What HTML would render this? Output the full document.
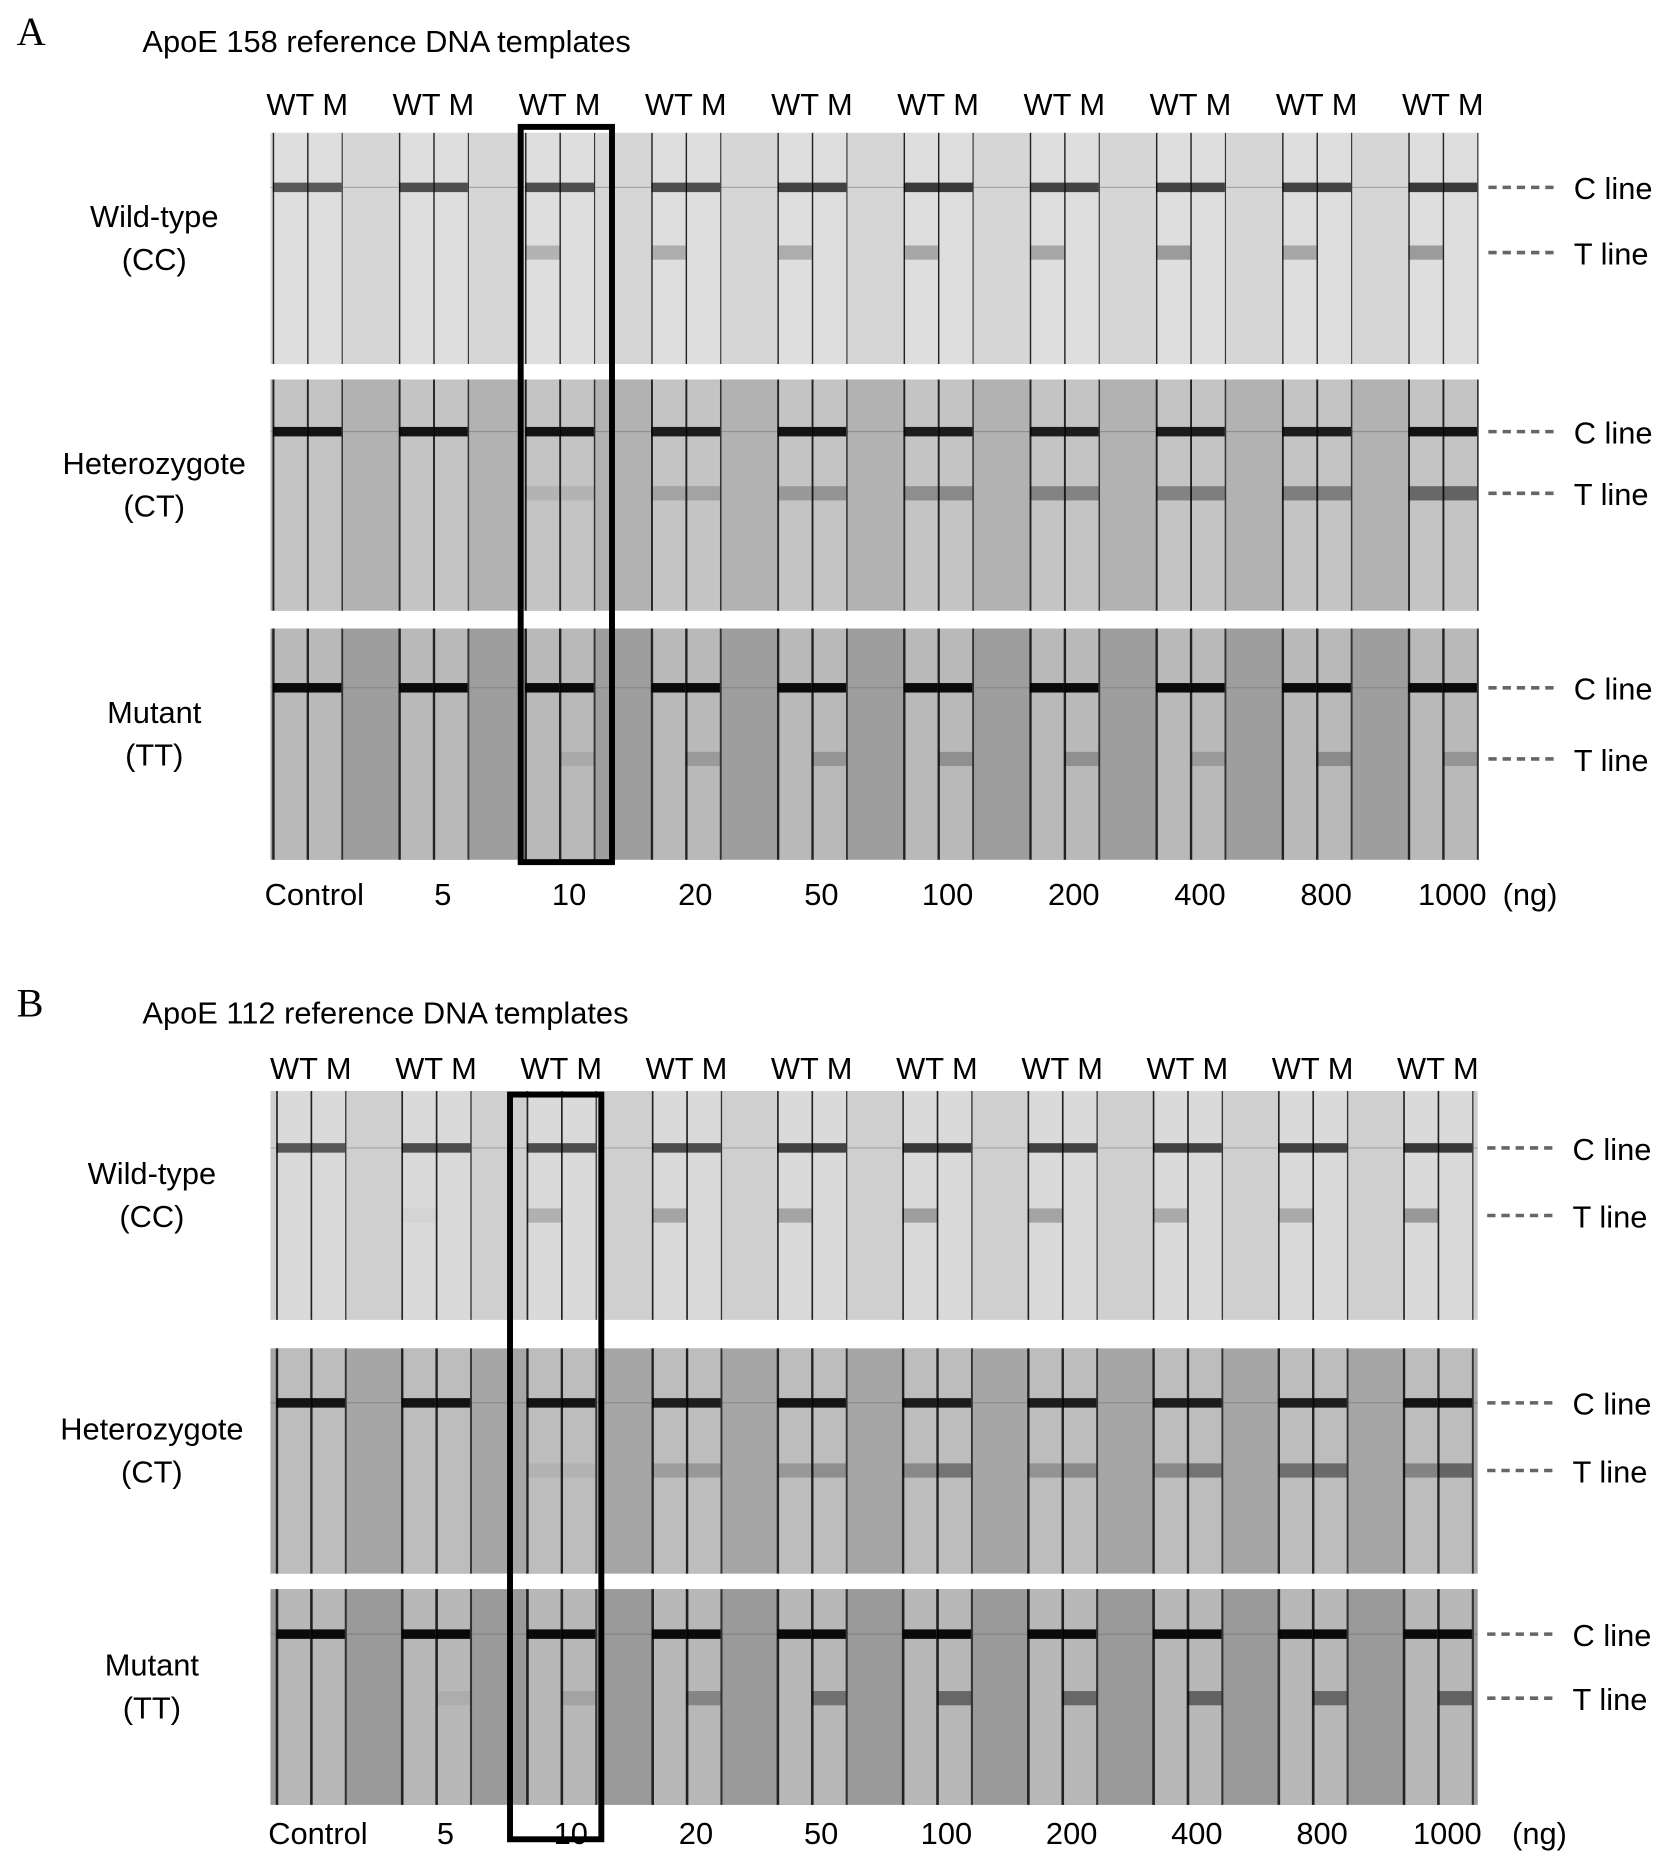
<!DOCTYPE html>
<html><head><meta charset="utf-8"><style>
html,body{margin:0;padding:0;background:#fff;}
svg{display:block;}
text{font-family:"Liberation Sans",sans-serif;fill:#000;}
</style></head><body>
<svg id="fig" width="1677" height="1863" viewBox="0 0 1414 1571" xmlns="http://www.w3.org/2000/svg">
</svg>
<script>
const doses = ["Control","5","10","20","50","100","200","400","800","1000"];
const rowNames = [["Wild-type","(CC)"],["Heterozygote","(CT)"],["Mutant","(TT)"]];
// T-line intensity (0..1) per dose for WT strip and M strip
const aT_WT = [[0,0,0.35,0.4,0.4,0.45,0.45,0.55,0.45,0.55],[0,0,0.15,0.3,0.4,0.5,0.6,0.6,0.65,0.85],[0,0,0,0,0,0,0,0,0,0]];
const aT_M  = [[0,0,0,0,0,0,0,0,0,0],[0,0,0.15,0.3,0.45,0.55,0.6,0.65,0.65,0.9],[0,0,0.15,0.3,0.35,0.4,0.4,0.3,0.45,0.35]];
const bT_WT = [[0,0.05,0.35,0.45,0.45,0.5,0.45,0.4,0.4,0.55],[0,0,0.1,0.3,0.35,0.5,0.4,0.5,0.75,0.55],[0,0,0,0,0,0,0,0,0,0]];
const bT_M  = [[0,0,0,0,0,0,0,0,0,0],[0,0,0.1,0.35,0.45,0.7,0.5,0.7,0.8,0.85],[0,0.1,0.2,0.5,0.7,0.8,0.8,0.85,0.8,0.85]];
const cIntensity = [[0.6,0.65,0.65,0.65,0.7,0.75,0.7,0.7,0.7,0.75],[0.9,0.9,0.9,0.85,0.9,0.85,0.85,0.85,0.85,0.9],[0.95,0.95,0.95,0.95,0.95,0.95,0.95,0.95,0.95,0.95]];

const NS="http://www.w3.org/2000/svg";
const svg=document.getElementById('fig');
function el(tag,attrs,parent){const e=document.createElementNS(NS,tag);for(const k in attrs)e.setAttribute(k,attrs[k]);(parent||svg).appendChild(e);return e;}
function txt(s,x,y,size,anchor,parent,fam){const t=el('text',{x:x,y:y,'font-size':size,'text-anchor':anchor||'start'},parent);if(fam)t.setAttribute('style','font-family:'+fam);t.textContent=s;return t;}

function panel(cfg){
  const g=el('g',{});
  
  
  const L=txt(cfg.letter,14,cfg.titleY+8,34,'start',g,'"Liberation Serif",serif');
  
  
  const T=txt(cfg.title,120,cfg.titleY+14,26,'start',g);
  
  
  const gx=i=>cfg.g0+cfg.step*i;
  doses.forEach((d,i)=>{
    const h=txt('WT M',gx(i),cfg.hdrY,26,'middle',g);
    
    
    const x=txt(d,i===0?gx(i)+6:gx(i)+8,cfg.xlabY,26,'middle',g);
    
    
  });
  const ng=txt('(ng)',cfg.ngX,cfg.xlabY,26,'start',g);
  
  
  cfg.rows.forEach((r,ri)=>{
    const rg=el('g',{},g);
    
    
    el('rect',{x:228,y:r.y0,width:cfg.x1-228,height:r.y1-r.y0,fill:r.bg},rg);
    el('line',{x1:228,x2:cfg.x1,y1:r.c,y2:r.c,stroke:'#666','stroke-width':0.8,opacity:0.5},rg);
    doses.forEach((d,i)=>{
      const c=gx(i);
      [[c-29,cfg.tWT[ri][i]],[c,cfg.tM[ri][i]]].forEach((s,k)=>{
        const st=el('rect',{x:s[0],y:r.y0,width:29,height:r.y1-r.y0,fill:r.strip},rg);
        
        
        el('line',{x1:s[0]+0.5,x2:s[0]+0.5,y1:r.y0,y2:r.y1,stroke:'#222','stroke-width':r.lw},rg);
        const cb=el('rect',{x:s[0],y:r.c-4,width:29,height:8,fill:'#000',opacity:cIntensity[ri][i]},rg);
        
        
        if(s[1]>0){
          const tb=el('rect',{x:s[0],y:r.t-6,width:29,height:12,fill:'#000',opacity:s[1]*0.55},rg);
          
          
        }
      });
      el('line',{x1:c+29.5,x2:c+29.5,y1:r.y0,y2:r.y1,stroke:'#333','stroke-width':r.lw*0.8},rg);
    });
    const lab=el('g',{},g);
    
    
    const mid=(r.y0+r.y1)/2;
    txt(rowNames[ri][0],cfg.lx,mid-18,26,'middle',lab);
    txt(rowNames[ri][1],cfg.lx,mid+18,26,'middle',lab);
    [['C line',r.c],['T line',r.t]].forEach(([s,y])=>{
      const m=el('g',{},g);
      
      
      el('line',{x1:cfg.x1+8,x2:cfg.x1+68,y1:y,y2:y,stroke:'#666','stroke-width':3,'stroke-dasharray':'7,5'},m);
      txt(s,cfg.x1+80,y+10,26,'start',m);
    });
  });
  const box=el('rect',{x:cfg.box[0],y:cfg.box[1],width:cfg.box[2],height:cfg.box[3],fill:'none',stroke:'#000','stroke-width':5},g);
  
  
}

panel({letter:'A',title:'ApoE 158 reference DNA templates',titleY:30,hdrY:97,xlabY:763,ngX:1267,
  g0:259,step:106.4,x1:1247,lx:130,tWT:aT_WT,tM:aT_M,box:[439,107,77,620],
  rows:[{y0:112,y1:307,bg:'#d6d6d6',strip:'#dedede',c:158,t:213,lw:1.2},
        {y0:320,y1:515,bg:'#b2b2b2',strip:'#c4c4c4',c:364,t:416,lw:1.6},
        {y0:530,y1:725,bg:'#9e9e9e',strip:'#b9b9b9',c:580,t:640,lw:2}]});
panel({letter:'B',title:'ApoE 112 reference DNA templates',titleY:849,hdrY:910,xlabY:1555,ngX:1275,
  g0:262,step:105.6,x1:1246,lx:128,tWT:bT_WT,tM:bT_M,box:[430,923,77,628],
  rows:[{y0:920,y1:1113,bg:'#cfcfcf',strip:'#dadada',c:968,t:1025,lw:1.4},
        {y0:1137,y1:1327,bg:'#a6a6a6',strip:'#bdbdbd',c:1183,t:1240,lw:2},
        {y0:1340,y1:1522,bg:'#9a9a9a',strip:'#b8b8b8',c:1378,t:1432,lw:2.2}]});
</script>
</body></html>
